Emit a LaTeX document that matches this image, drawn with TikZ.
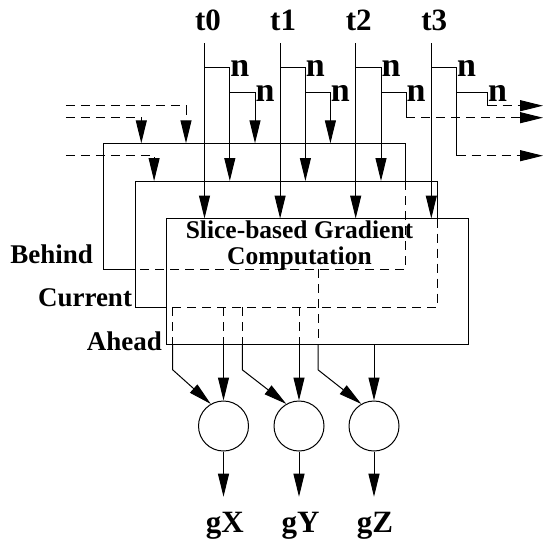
\documentclass[tikz,border=0pt]{standalone}
\usepackage{fontspec}
\setmainfont{Liberation Serif}
\usetikzlibrary{arrows.meta}

\begin{document}
\begin{tikzpicture}[x=1pt,y=-1pt,line width=1pt,
  slab/.style={minimum width=302pt,minimum height=126pt,inner sep=0pt,outer sep=0pt},
  hid/.style={dash pattern=on 9pt off 6pt},
  lab/.style={font=\fontsize{27}{28}\selectfont\bfseries,inner sep=0pt},
  tlab/.style={font=\fontsize{31}{32}\selectfont\bfseries,inner sep=0pt},
  nlab/.style={font=\fontsize{34}{35}\selectfont\bfseries,inner sep=0pt},
  unit/.style={draw,circle,minimum size=50pt,inner sep=0pt},
  >={Triangle[length=23pt,width=11pt]}]
\useasboundingbox (0,0) rectangle (543,542);
% the three slices
\node[slab] (behind) at (254.9,206.3) {};
\node[slab] (current) at (286.4,244) {};
\node[slab,draw] (ahead) at (317.9,281.5) {};
\draw (behind.south -| current.west) -- (behind.south west) -- (behind.north west) -- (behind.north east) -- (behind.east |- current.north);
\draw[hid] (behind.east |- current.north) -- (behind.south east) -- (behind.south -| current.west);
\draw (current.south -| ahead.west) -- (current.south west) -- (current.north west) -- (current.north east) -- (current.east |- ahead.north);
\draw[hid] (current.east |- ahead.north) -- (current.south east) -- (current.south -| ahead.west);
\node[font=\fontsize{25.5}{26}\selectfont\bfseries,align=center,inner sep=0pt,anchor=north] (slice) at (299.5,220.5) {Slice-based Gradient\\Computation};
\node[lab,anchor=base east] (lbehind) at (93.5,263.5) {Behind};
\node[lab,anchor=base east] (lcurrent) at (132.5,306) {Current};
\node[lab,anchor=base east] (lahead) at (162.5,350) {Ahead};
% inputs from the left, outputs to the right
\coordinate (i1) at (65.8,105.7);
\coordinate (i2) at (65.8,117.7);
\coordinate (i3) at (65.8,155.7);
\coordinate (o1) at (543,105.7);
\coordinate (o2) at (543,117.7);
\coordinate (o3) at (543,155.7);
\draw[hid,->] (i1) -| (186,0 |- behind.north);
\draw[hid,->] (i2) -| (141.3,0 |- behind.north);
\draw[hid,->] (i3) -| (154.1,0 |- current.north);
% time steps
\node[tlab,anchor=base] (t0) at (208,30) {t0};
\node[tlab,anchor=base] (t1) at (283.1,30) {t1};
\node[tlab,anchor=base] (t2) at (358.7,30) {t2};
\node[tlab,anchor=base] (t3) at (434.3,30) {t3};
\coordinate (s0) at (204.5,43.3);
\coordinate (s1) at (280.1,43.3);
\coordinate (s2) at (355.7,43.3);
\coordinate (s3) at (431.3,43.3);
\draw[->] (s0) -- (s0 |- ahead.north);
\draw[->] (s1) -- (s1 |- ahead.north);
\draw[->] (s2) -- (s2 |- ahead.north);
\draw[->] (s3) -- (s3 |- ahead.north);
% delays
\node[nlab,anchor=base west] (n0a) at (229.8,76) {n};
\node[nlab,anchor=base west] (n0b) at (255,101) {n};
\node[nlab,anchor=base west] (n1a) at (305.4,76) {n};
\node[nlab,anchor=base west] (n1b) at (330.4,101) {n};
\node[nlab,anchor=base west] (n2a) at (381,76) {n};
\node[nlab,anchor=base west] (n2b) at (406,101) {n};
\node[nlab,anchor=base west] (n3a) at (456.5,76) {n};
\node[nlab,anchor=base west] (n3b) at (487.6,101) {n};
\draw[->] (s0 |- n0a.west) -- (n0a.west) -- (n0a.west |- current.north);
\draw[->] (n0a.west |- n0b.west) -- (n0b.west) -- (n0b.west |- behind.north);
\draw[->] (s1 |- n1a.west) -- (n1a.west) -- (n1a.west |- current.north);
\draw[->] (n1a.west |- n1b.west) -- (n1b.west) -- (n1b.west |- behind.north);
\draw[->] (s2 |- n2a.west) -- (n2a.west) -- (n2a.west |- current.north);
\draw (n2a.west |- n2b.west) -- (n2b.west) -- (n2b.west |- o2);
\draw[hid,->] (n2b.west |- o2) -- (o2);
\draw (s3 |- n3a.west) -- (n3a.west) -- (n3a.west |- o3);
\draw[hid,->] (n3a.west |- o3) -- (o3);
\draw (n3a.west |- n3b.west) -- (n3b.west) -- (n3b.west |- o1);
\draw[hid,->] (n3b.west |- o1) -- (o1);
% gradient components
\node[unit] (cx) at (223.5,426) {};
\node[unit] (cy) at (299,426) {};
\node[unit] (cz) at (374,426) {};
\node[tlab,anchor=base] (gx) at (224.7,532.5) {gX};
\node[tlab,anchor=base] (gy) at (300.5,532.5) {gY};
\node[tlab,anchor=base] (gz) at (375,532.5) {gZ};
\draw[hid] (172.7,0 |- current.south) -- (172.7,0 |- ahead.south);
\draw[->] (172.7,0 |- ahead.south) -- ++(0,25.3) -- (cx.120);
\draw[hid] (cx |- current.south) -- (cx |- ahead.south);
\draw[->] (cx |- ahead.south) -- (cx);
\draw[hid] (242.3,0 |- current.south) -- (242.3,0 |- ahead.south);
\draw[->] (242.3,0 |- ahead.south) -- ++(0,25.3) -- (cy.120);
\draw[hid] (cy |- current.south) -- (cy |- ahead.south);
\draw[->] (cy |- ahead.south) -- (cy);
\draw[hid] (318,0 |- behind.south) -- (318,0 |- ahead.south);
\draw[->] (318,0 |- ahead.south) -- ++(0,25.3) -- (cz.120);
\draw[->] (cz |- ahead.south) -- (cz);
\draw[->] (cx) -- (cx |- 0,496.7);
\draw[->] (cy) -- (cy |- 0,496.7);
\draw[->] (cz) -- (cz |- 0,496.7);
\end{tikzpicture}
\end{document}
